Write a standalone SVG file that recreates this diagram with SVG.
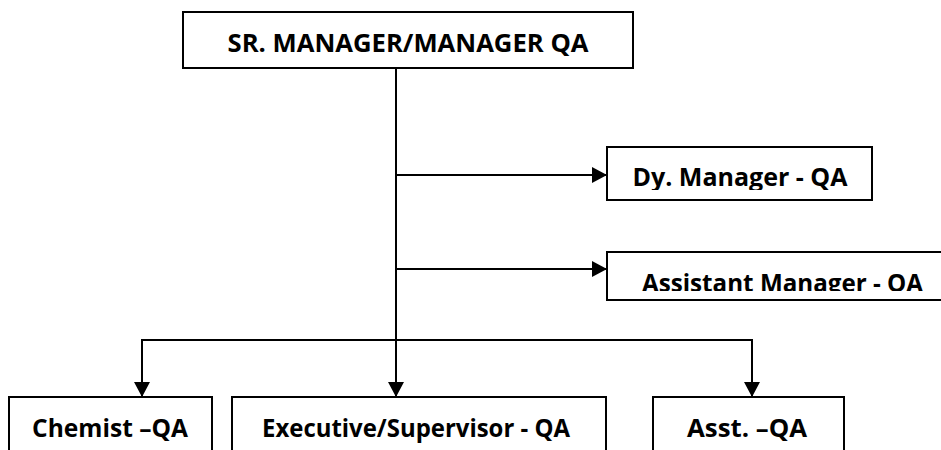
<svg xmlns="http://www.w3.org/2000/svg" width="941" height="450" viewBox="0 0 941 450">
<style>
.box{fill:#fff;stroke:#000;stroke-width:2}
.lbl{font-family:"Open Sans","Liberation Sans",sans-serif;font-weight:700;font-size:25px;fill:#000;text-anchor:middle}
.conn{fill:none;stroke:#000;stroke-width:2}
</style>
<defs>
<marker id="arr" markerUnits="userSpaceOnUse" markerWidth="15" markerHeight="16" refX="15" refY="8" orient="auto">
<path d="M0,0 L15,8 L0,16 z" fill="#000"/>
</marker>
<clipPath id="clipDy"><rect x="607" y="147" width="265" height="43"/></clipPath>
<clipPath id="clipAm"><rect x="607" y="252" width="340" height="39"/></clipPath>
</defs>
<g id="connectors">
<path class="conn" d="M396 68 V397" marker-end="url(#arr)"/>
<path class="conn" d="M396 175 H607" marker-end="url(#arr)"/>
<path class="conn" d="M396 269 H607" marker-end="url(#arr)"/>
<path class="conn" d="M396 340 H142 V397" marker-end="url(#arr)"/>
<path class="conn" d="M396 340 H752 V397" marker-end="url(#arr)"/>
</g>
<g id="sr-manager">
<rect class="box" x="183" y="12" width="450" height="56"/>
<text class="lbl" x="408" y="52" textLength="361" lengthAdjust="spacingAndGlyphs">SR. MANAGER/MANAGER QA</text>
</g>
<g id="dy-manager">
<rect class="box" x="607" y="147" width="265" height="53"/>
<text class="lbl" x="740" y="186" textLength="215" lengthAdjust="spacingAndGlyphs" clip-path="url(#clipDy)">Dy. Manager - QA</text>
</g>
<g id="assistant-manager">
<rect class="box" x="607" y="252" width="360" height="48"/>
<text class="lbl" x="782.5" y="292" textLength="281" lengthAdjust="spacingAndGlyphs" clip-path="url(#clipAm)">Assistant Manager - QA</text>
</g>
<g id="chemist">
<rect class="box" x="9" y="397" width="203" height="70"/>
<text class="lbl" x="110" y="437" textLength="156" lengthAdjust="spacingAndGlyphs">Chemist –QA</text>
</g>
<g id="executive">
<rect class="box" x="232" y="397" width="374" height="70"/>
<text class="lbl" x="416" y="437" textLength="308" lengthAdjust="spacingAndGlyphs">Executive/Supervisor - QA</text>
</g>
<g id="asst">
<rect class="box" x="653" y="397" width="191" height="70"/>
<text class="lbl" x="747" y="437" textLength="120" lengthAdjust="spacingAndGlyphs">Asst. –QA</text>
</g>
</svg>
